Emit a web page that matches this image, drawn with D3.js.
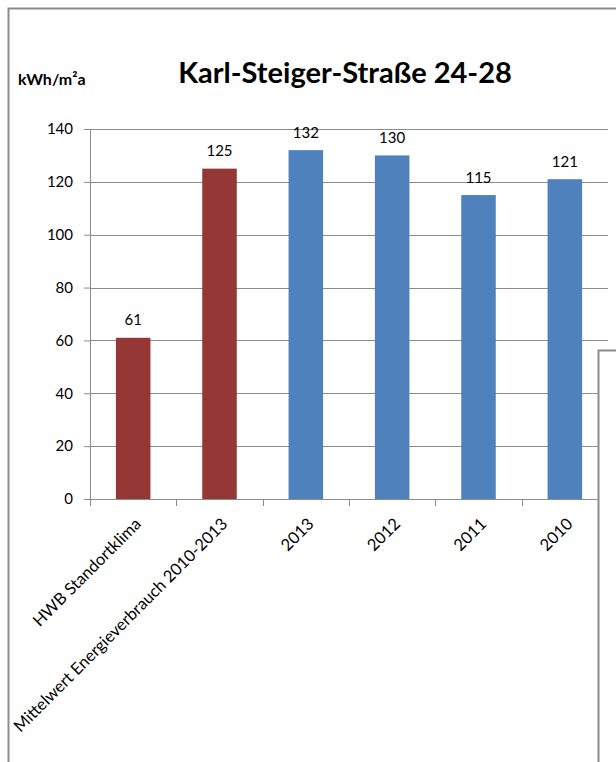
<!DOCTYPE html>
<html>
<head>
<meta charset="utf-8">
<script src="https://cdn.jsdelivr.net/npm/d3@7"></script>
<style>
  body { margin: 0; background: #fff; }
  svg { display: block; }
  text { font-family: Lato, "Open Sans", sans-serif; fill: #000; }
</style>
</head>
<body>
<div id="chart"></div>
<script>
// chart data
var categories = ["HWB Standortklima", "Mittelwert Energieverbrauch 2010-2013", "2013", "2012", "2011", "2010"];
var values = [61, 125, 132, 130, 115, 121];
var barColors = ["#953735", "#953735", "#4f81bd", "#4f81bd", "#4f81bd", "#4f81bd"];
var yTicks = [0, 20, 40, 60, 80, 100, 120, 140];

var svg_width = 616, svg_height = 762;
var margin = {top: 129, right: 8, bottom: 263, left: 90};
var width = svg_width - margin.left - margin.right;
var height = svg_height - margin.top - margin.bottom;

var svg = d3.select("#chart")
  .append("svg")
  .attr("width", svg_width)
  .attr("height", svg_height);

var g = svg.append("g")
  .attr("transform", "translate(" + margin.left + "," + margin.top + ")");

var x = d3.scaleBand()
  .domain(categories)
  .range([0, width])
  .paddingInner(0.6)
  .paddingOuter(0.3);

var y = d3.scaleLinear()
  .domain([0, 140])
  .range([height, 0]);

// gridlines
g.selectAll(".grid")
  .data(yTicks)
  .enter()
  .append("line")
  .attr("class", "grid")
  .attr("x1", 0)
  .attr("x2", width)
  .attr("y1", function(d) { return Math.round(y(d)) + 0.5; })
  .attr("y2", function(d) { return Math.round(y(d)) + 0.5; })
  .attr("stroke", "#8c8c8c")
  .attr("stroke-width", 1);

// y axis
var yAxis = g.append("g")
  .call(d3.axisLeft(y).tickValues(yTicks).tickSize(6).tickPadding(11));
yAxis.select(".domain").attr("stroke", "#8c8c8c");
yAxis.selectAll(".tick line").attr("stroke", "#8c8c8c");
yAxis.selectAll("text").style("font-size", "15px").attr("fill", "#000");

// bars
g.selectAll(".bar")
  .data(values)
  .enter()
  .append("rect")
  .attr("class", "bar")
  .attr("x", function(d, i) { return x(categories[i]); })
  .attr("y", function(d) { return y(d); })
  .attr("width", x.bandwidth())
  .attr("height", function(d) { return height - y(d); })
  .attr("fill", function(d, i) { return barColors[i]; });

// value labels
g.selectAll(".val")
  .data(values)
  .enter()
  .append("text")
  .attr("class", "val")
  .attr("x", function(d, i) { return x(categories[i]) + x.bandwidth() / 2; })
  .attr("y", function(d) { return y(d) - 12.5; })
  .attr("text-anchor", "middle")
  .style("font-size", "15px")
  .text(function(d) { return d; });

// x axis: ticks on band boundaries
var bounds = d3.range(categories.length + 1).map(function(i) { return i * width / categories.length; });
g.append("line")
  .attr("x1", 0).attr("x2", width)
  .attr("y1", height + 0.5).attr("y2", height + 0.5)
  .attr("stroke", "#8c8c8c");
g.selectAll(".xtick")
  .data(bounds)
  .enter()
  .append("line")
  .attr("class", "xtick")
  .attr("x1", function(d) { return Math.round(d) + 0.5; })
  .attr("x2", function(d) { return Math.round(d) + 0.5; })
  .attr("y1", height)
  .attr("y2", height + 7)
  .attr("stroke", "#8c8c8c");

g.selectAll(".xlab")
  .data(categories)
  .enter()
  .append("text")
  .attr("class", "xlab")
  .attr("text-anchor", "end")
  .attr("transform", function(d) {
    var cx = x(d) + x.bandwidth() / 2 + 9;
    return "translate(" + cx + "," + (height + 26) + ") rotate(-45)";
  })
  .style("font-size", "16.5px")
  .text(function(d) { return d; });

// title and unit
svg.append("text")
  .attr("x", 345)
  .attr("y", 83)
  .attr("text-anchor", "middle")
  .style("font-size", "29px")
  .style("font-weight", "bold")
  .text("Karl-Steiger-Straße 24-28");

svg.append("text")
  .attr("x", 18)
  .attr("y", 85)
  .style("font-size", "16px")
  .style("font-weight", "bold")
  .text("kWh/m²a");

// outer frame (top + left edges)
svg.append("path")
  .attr("d", "M8.5," + svg_height + " L8.5,8.5 L" + svg_width + ",8.5")
  .attr("fill", "none")
  .attr("stroke", "#8c8c8c")
  .attr("stroke-width", 2);

// second box overlapping on the right
svg.append("rect")
  .attr("x", 598.5)
  .attr("y", 350.5)
  .attr("width", 30)
  .attr("height", 430)
  .attr("fill", "#fff")
  .attr("stroke", "#8c8c8c")
  .attr("stroke-width", 2);
</script>
</body>
</html>
